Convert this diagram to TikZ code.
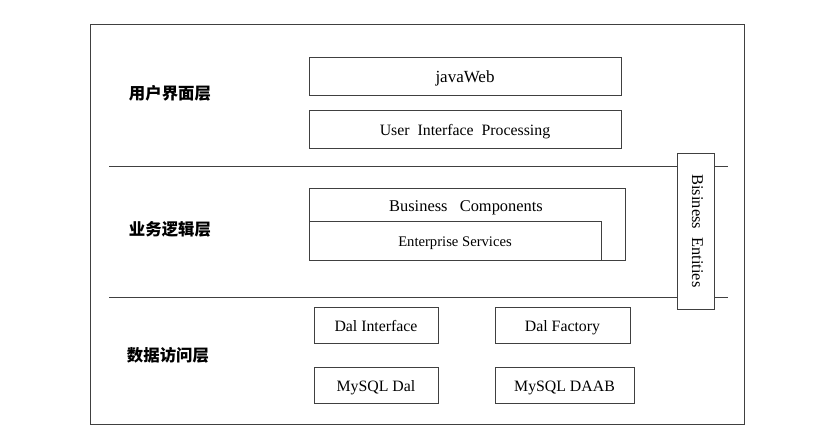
\documentclass[tikz,border=0pt]{standalone}
\usepackage{fontspec}
\setmainfont{Liberation Serif}
\newfontfamily\cjk{Noto Sans CJK SC}
\usepackage{tikz}
\usetikzlibrary{positioning}
\usetikzlibrary{calc}
\definecolor{linegray}{RGB}{64,64,64}
\tikzset{
  lay_box/.style = {rectangle, draw=linegray, line width=0.8pt, fill=white,
    inner sep=0pt, align=center, text height=2.4ex, text depth=0.1ex,
    font=\fontsize{13.5}{15}\selectfont},% module box
  lay_lbl/.style = {font=\cjk\bfseries\fontsize{14}{16}\selectfont},% layer name
  lay_sep/.style = {draw=linegray, line width=0.8pt}% layer separator
}

\begin{document}
\begin{tikzpicture}[x=0.03cm,y=-0.03cm]
\useasboundingbox (0,0) rectangle (840,428);
\draw[lay_sep] (90,24) rectangle (744,424);
\draw[lay_sep] (109,166) -- (728,166);
\draw[lay_sep] (109,297) -- (728,297);

% user interface layer
\node [lay_lbl] (l_ui) at (170,93) {用户界面层};
\node [lay_box, minimum width=9.36cm, minimum height=1.14cm, font=\fontsize{14.5}{16}\selectfont] (web) at (465,76) {javaWeb};
\node [lay_box, minimum width=9.36cm, minimum height=1.14cm] (uip) at (465,129) {User\ \ Interface\ \ Processing};

% business logic layer
\node [lay_lbl] (l_bl) at (170,229) {业务逻辑层};
\node [lay_box, minimum width=9.48cm, minimum height=2.16cm] (bc) at (467,224) {};
\node [font=\fontsize{14}{16}\selectfont] (bc_t) at (466,208) {Business\ \ \ Components};
\node [lay_box, minimum width=8.76cm, minimum height=1.17cm, font=\fontsize{12.5}{14}\selectfont] (es) at (455,240.5) {Enterprise Services};
\node [lay_box, rotate=-90, text height=1.6ex, text depth=0.3ex, minimum width=4.68cm, minimum height=1.11cm,
  font=\fontsize{14}{16}\selectfont] (be) at (695.5,231) {Bisiness\ \ Entities};

% data access layer
\node [lay_lbl] (l_da) at (168,355) {数据访问层};
\node [lay_box, minimum width=3.72cm, minimum height=1.08cm] (dal_if) at (376,325) {Dal Interface};
\node [lay_box, minimum width=4.05cm, minimum height=1.08cm] (dal_fac) at (562.5,325) {Dal Factory};
\node [lay_box, minimum width=3.72cm, minimum height=1.08cm] (my_dal) at (376,385) {MySQL Dal};
\node [lay_box, minimum width=4.17cm, minimum height=1.08cm] (my_daab) at (564.5,385) {MySQL DAAB};
\end{tikzpicture}
\end{document}
